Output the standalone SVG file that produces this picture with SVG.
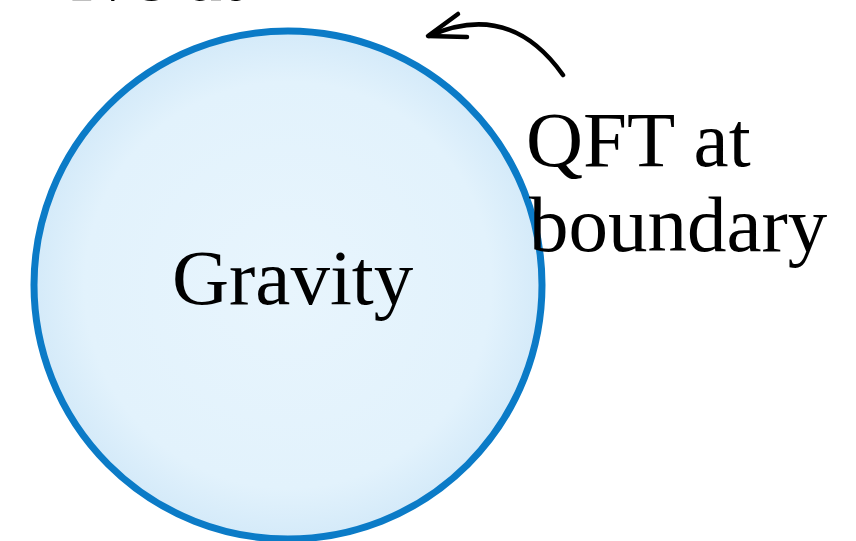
<svg xmlns="http://www.w3.org/2000/svg" width="856" height="541" viewBox="0 0 856 541">
<defs>
<radialGradient id="fillg" cx="0.5" cy="0.5" r="0.5">
<stop offset="0" stop-color="#e8f5fd"/>
<stop offset="0.8" stop-color="#e2f2fc"/>
<stop offset="1" stop-color="#d4eaf9"/>
</radialGradient>
</defs>
<style>
.lbl{font-family:"Liberation Serif","Times New Roman",serif;font-size:79px;fill:#000}
.arrow{fill:none;stroke:#000;stroke-width:4.5;stroke-linecap:round;stroke-linejoin:round}
</style>
<rect width="856" height="541" fill="#fff"/>
<g id="bulk">
<circle cx="288" cy="285" r="254" fill="url(#fillg)" stroke="#0b7bc7" stroke-width="7"/>
<text class="lbl" x="172" y="304">Gravity</text>
</g>
<g id="top-label">
<text class="lbl" x="244" y="0" text-anchor="end">n live at</text>
</g>
<g id="boundary-label">
<text class="lbl" x="526" y="166">QFT at</text>
<text class="lbl" x="529" y="251">boundary</text>
</g>
<g id="connectors">
<path class="arrow" d="M563,75 Q510,0 429,36"/>
<path class="arrow" d="M458,14 L428,36 L467,37"/>
</g>
</svg>
